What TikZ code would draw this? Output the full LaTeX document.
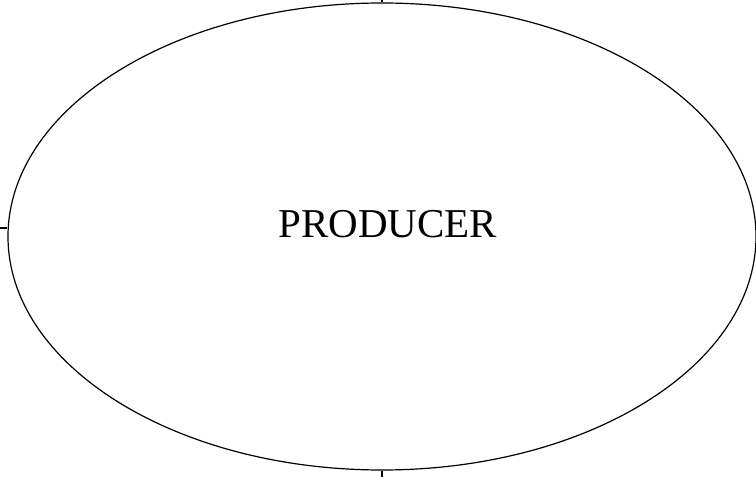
\documentclass[tikz,border=0pt]{standalone}
\usepackage{fontspec}
\setmainfont{Liberation Serif}
\usetikzlibrary{shapes.geometric}
\begin{document}
\begin{tikzpicture}[x=1pt,y=1pt,
  shapeline/.style={draw=black,line width=1.2pt},
  label/.style={font=\fontsize{41}{45}\selectfont,inner sep=0pt,anchor=base}]
\useasboundingbox (0,0) rectangle (756,477);
\node[shapeline,ellipse,inner sep=0pt,minimum width=748pt,minimum height=467pt] (prod) at (382,240.5) {};
\node[label] (txt) at (388,239) {PRODUCER};
\coordinate (topend) at (382,477);
\coordinate (leftend) at (0,249);
\coordinate (botend) at (382,0);
\draw[shapeline] (prod.north) -- (topend);
\draw[shapeline] (leftend) -- (leftend -| prod.west);
\draw[shapeline] (prod.south) -- (botend);
\end{tikzpicture}
\end{document}
